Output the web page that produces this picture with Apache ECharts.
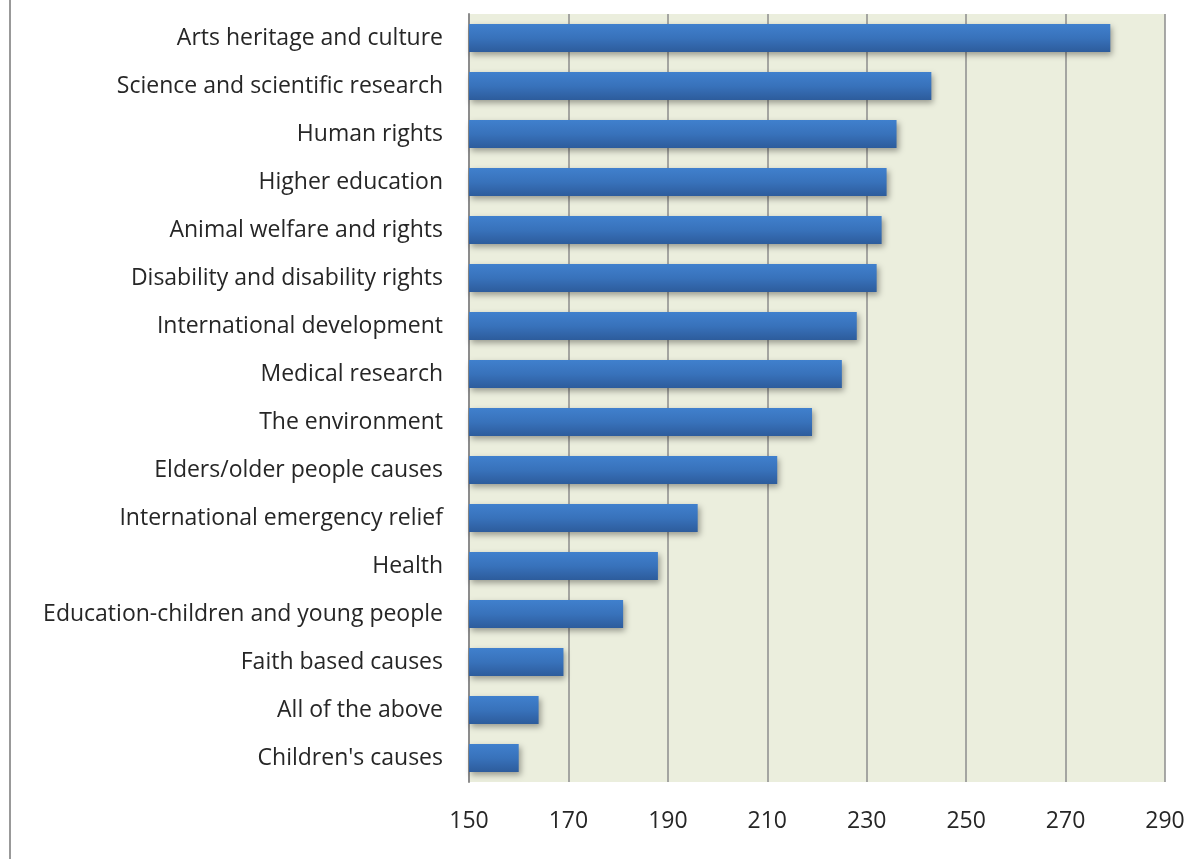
<!DOCTYPE html>
<html>
<head>
<meta charset="utf-8">
<script src="https://cdn.jsdelivr.net/npm/echarts@6/dist/echarts.min.js"></script>
<style>
  html, body { margin: 0; padding: 0; background: #fff; }
  #chart { width: 1203px; height: 859px; }
</style>
</head>
<body>
<div id="chart"></div>
<script>
// causes, top of the chart first
var causes = [
    'Arts heritage and culture',
    'Science and scientific research',
    'Human rights',
    'Higher education',
    'Animal welfare and rights',
    'Disability and disability rights',
    'International development',
    'Medical research',
    'The environment',
    'Elders/older people causes',
    'International emergency relief',
    'Health',
    'Education-children and young people',
    'Faith based causes',
    'All of the above',
    "Children's causes"
];
var counts = [279, 243, 236, 234, 233, 232, 228, 225, 219, 212, 196, 188, 181, 169, 164, 160];

var axisMin = 150,
    axisMax = 290,
    axisStep = 20;

var char = echarts.init(document.getElementById('chart'));

var option = {
    animation: false,
    textStyle: {
        fontFamily: 'Open Sans'
    },
    grid: {
        left: 469,
        right: 38,
        top: 14,
        bottom: 77,
        show: true,
        backgroundColor: '#ebeedd',
        borderWidth: 0
    },
    xAxis: {
        type: 'value',
        min: axisMin,
        max: axisMax,
        interval: axisStep,
        axisLine: { show: false },
        axisTick: { show: false },
        splitLine: {
            show: true,
            lineStyle: { color: '#8c8c8c', width: 1.5 }
        },
        axisLabel: {
            margin: 28,
            fontSize: 23,
            color: '#262626'
        }
    },
    yAxis: {
        type: 'category',
        inverse: true,
        data: causes,
        axisLine: {
            show: true,
            lineStyle: { color: '#8c8c8c', width: 2 }
        },
        axisTick: { show: false },
        axisLabel: {
            margin: 26,
            fontSize: 23,
            padding: [3, 0, 0, 0],
            color: '#262626'
        }
    },
    series: [
        {
            type: 'bar',
            data: counts,
            barWidth: '58%',
            itemStyle: {
                color: new echarts.graphic.LinearGradient(0, 0, 0, 1, [
                    { offset: 0, color: '#4080cd' },
                    { offset: 0.5, color: '#3872bb' },
                    { offset: 1, color: '#2d5c9c' }
                ]),
                shadowColor: 'rgba(0,0,0,0.35)',
                shadowBlur: 6,
                shadowOffsetX: 2,
                shadowOffsetY: 3
            }
        }
    ],
    graphic: [
        {
            type: 'line',
            shape: { x1: 10, y1: 0, x2: 10, y2: 859 },
            style: { stroke: '#999', lineWidth: 2 }
        }
    ]
};

char.setOption(option);
</script>
</body>
</html>
